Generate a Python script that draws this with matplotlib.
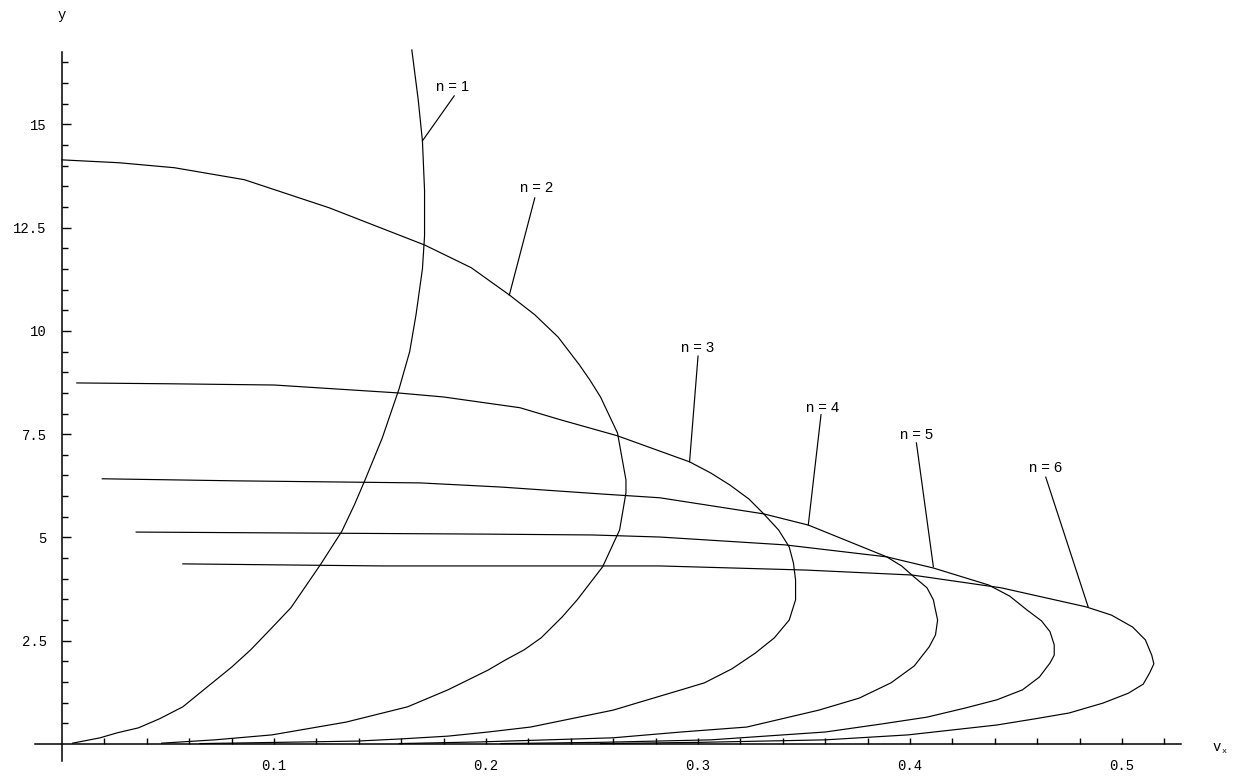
import numpy as np
import matplotlib.pyplot as plt
from matplotlib.ticker import FixedLocator

# curves v_x(y) for n = 1..6
n1_vx = [0.165, 0.168, 0.170, 0.171, 0.171, 0.170, 0.167, 0.164, 0.159, 0.151,
         0.143, 0.138, 0.132, 0.122, 0.108, 0.098, 0.089, 0.080, 0.068, 0.057,
         0.046, 0.036, 0.026, 0.018, 0.005]
n1_y = [16.8, 15.6, 14.6, 13.4, 12.3, 11.5, 10.4, 9.5, 8.6, 7.4,
        6.4, 5.8, 5.15, 4.35, 3.3, 2.76, 2.28, 1.86, 1.36, 0.90,
        0.61, 0.39, 0.27, 0.15, 0.02]

n2_vx = [0.000, 0.027, 0.053, 0.086, 0.126, 0.148, 0.171, 0.193, 0.211, 0.223,
         0.234, 0.244, 0.249, 0.254, 0.262, 0.266, 0.266, 0.263, 0.255, 0.243,
         0.236, 0.226, 0.218, 0.209, 0.201, 0.182, 0.163, 0.134, 0.099, 0.072,
         0.047]
n2_y = [14.14, 14.07, 13.95, 13.66, 12.98, 12.54, 12.08, 11.53, 10.87, 10.39,
        9.85, 9.18, 8.81, 8.40, 7.53, 6.39, 6.08, 5.18, 4.29, 3.49,
        3.08, 2.57, 2.28, 2.03, 1.79, 1.31, 0.90, 0.53, 0.22, 0.10,
        0.02]

n3_vx = [0.007, 0.050, 0.100, 0.158, 0.180, 0.216, 0.235, 0.262, 0.296, 0.306,
         0.315, 0.324, 0.331, 0.338, 0.343, 0.345, 0.346, 0.346, 0.343, 0.336,
         0.327, 0.316, 0.303, 0.292, 0.273, 0.260, 0.240, 0.221, 0.201, 0.182,
         0.159, 0.139, 0.103, 0.065]
n3_y = [8.74, 8.72, 8.69, 8.50, 8.40, 8.14, 7.85, 7.46, 6.83, 6.56,
        6.27, 5.93, 5.57, 5.18, 4.77, 4.38, 3.97, 3.49, 3.00, 2.57,
        2.20, 1.82, 1.48, 1.31, 1.02, 0.82, 0.61, 0.41, 0.29, 0.19,
        0.12, 0.07, 0.04, 0.01]

n4_vx = [0.019, 0.082, 0.169, 0.207, 0.255, 0.282, 0.331, 0.352, 0.389, 0.396,
         0.402, 0.408, 0.411, 0.412, 0.413, 0.412, 0.409, 0.402, 0.391, 0.376,
         0.357, 0.323, 0.292, 0.260, 0.229, 0.197, 0.159]
n4_y = [6.42, 6.37, 6.32, 6.22, 6.05, 5.96, 5.57, 5.30, 4.53, 4.31,
        4.04, 3.78, 3.49, 3.24, 3.00, 2.64, 2.35, 1.89, 1.48, 1.11,
        0.82, 0.41, 0.29, 0.15, 0.10, 0.05, 0.01]

n5_vx = [0.035, 0.201, 0.250, 0.282, 0.341, 0.389, 0.411, 0.437, 0.447, 0.455,
         0.462, 0.466, 0.468, 0.468, 0.466, 0.461, 0.453, 0.441, 0.426, 0.408,
         0.386, 0.360, 0.306, 0.254, 0.207]
n5_y = [5.13, 5.08, 5.06, 5.01, 4.82, 4.53, 4.26, 3.85, 3.58, 3.25,
        2.98, 2.72, 2.40, 2.15, 1.96, 1.62, 1.31, 1.07, 0.87, 0.65,
        0.48, 0.29, 0.10, 0.04, 0.01]

n6_vx = [0.057, 0.151, 0.282, 0.351, 0.401, 0.443, 0.483, 0.495, 0.505, 0.511,
         0.514, 0.515, 0.513, 0.510, 0.503, 0.491, 0.475, 0.459, 0.441, 0.399,
         0.360, 0.301, 0.254]
n6_y = [4.36, 4.31, 4.31, 4.21, 4.09, 3.78, 3.32, 3.12, 2.83, 2.52,
        2.15, 1.94, 1.72, 1.45, 1.23, 0.99, 0.75, 0.61, 0.46, 0.22,
        0.10, 0.04, 0.01]

curves = [(n1_vx, n1_y), (n2_vx, n2_y), (n3_vx, n3_y),
          (n4_vx, n4_y), (n5_vx, n5_y), (n6_vx, n6_y)]

# label text position and leader line (text end -> point on curve)
labels = ["n = 1", "n = 2", "n = 3", "n = 4", "n = 5", "n = 6"]
label_xy = [(0.184, 15.91), (0.224, 13.46), (0.300, 9.59),
            (0.3585, 8.14), (0.403, 7.48), (0.464, 6.68)]
leader_start = [(0.185, 15.69), (0.223, 13.22), (0.300, 9.39),
                (0.358, 7.97), (0.403, 7.29), (0.464, 6.46)]
leader_end = [(0.170, 14.60), (0.211, 10.87), (0.296, 6.83),
              (0.352, 5.30), (0.411, 4.29), (0.484, 3.32)]

x_major = [0.1, 0.2, 0.3, 0.4, 0.5]
y_major = [2.5, 5, 7.5, 10, 12.5, 15]

fig = plt.figure(figsize=(12.41, 7.81), dpi=100)
ax = fig.add_axes([0, 0, 1, 1])
ax.set_xlim(-0.02925, 0.5561)
ax.set_ylim(-0.896, 18.01)
ax.patch.set_visible(False)

for vx, y in curves:
    ax.plot(vx, y, color="black", lw=0.85, solid_joinstyle="round")

for txt, (tx, ty), (sx, sy), (ex, ey) in zip(labels, label_xy, leader_start, leader_end):
    ax.text(tx, ty, txt, ha="center", va="center", fontsize=10.5,
            family="Liberation Sans")
    ax.plot([sx, ex], [sy, ey], color="black", lw=0.85)

# axes crossing at the origin
for side in ("top", "right"):
    ax.spines[side].set_visible(False)
ax.spines["left"].set_position(("data", 0))
ax.spines["bottom"].set_position(("data", 0))
ax.spines["left"].set_bounds(-0.4, 16.75)
ax.spines["bottom"].set_bounds(-0.0127, 0.528)
for side in ("left", "bottom"):
    ax.spines[side].set_linewidth(1.1)

ax.xaxis.set_major_locator(FixedLocator(x_major))
ax.xaxis.set_minor_locator(FixedLocator(np.arange(0.02, 0.53, 0.02)))
ax.yaxis.set_major_locator(FixedLocator(y_major))
ax.yaxis.set_minor_locator(FixedLocator(np.arange(0.5, 16.6, 0.5)))
ax.set_xticklabels([f"{v:g}" for v in x_major])
ax.set_yticklabels([f"{v:g}" for v in y_major])

ax.tick_params(axis="x", which="both", direction="in", length=4.5, width=1.0,
               pad=11)
ax.tick_params(axis="y", which="major", direction="in", length=6.5, width=1.0,
               pad=11)
ax.tick_params(axis="y", which="minor", direction="in", length=4.3, width=1.0)
for lab in ax.get_xticklabels() + ax.get_yticklabels():
    lab.set_family("Liberation Mono")
    lab.set_fontsize(10)

ax.text(0.0, 17.65, "y", ha="center", va="center", fontsize=10,
        family="Liberation Mono")
ax.text(0.5448, -0.07, "v", ha="center", va="center", fontsize=10,
        family="Liberation Mono")
ax.text(0.5483, -0.17, "x", ha="center", va="center", fontsize=6,
        family="Liberation Mono")

fig.savefig("out.png", dpi=100)
